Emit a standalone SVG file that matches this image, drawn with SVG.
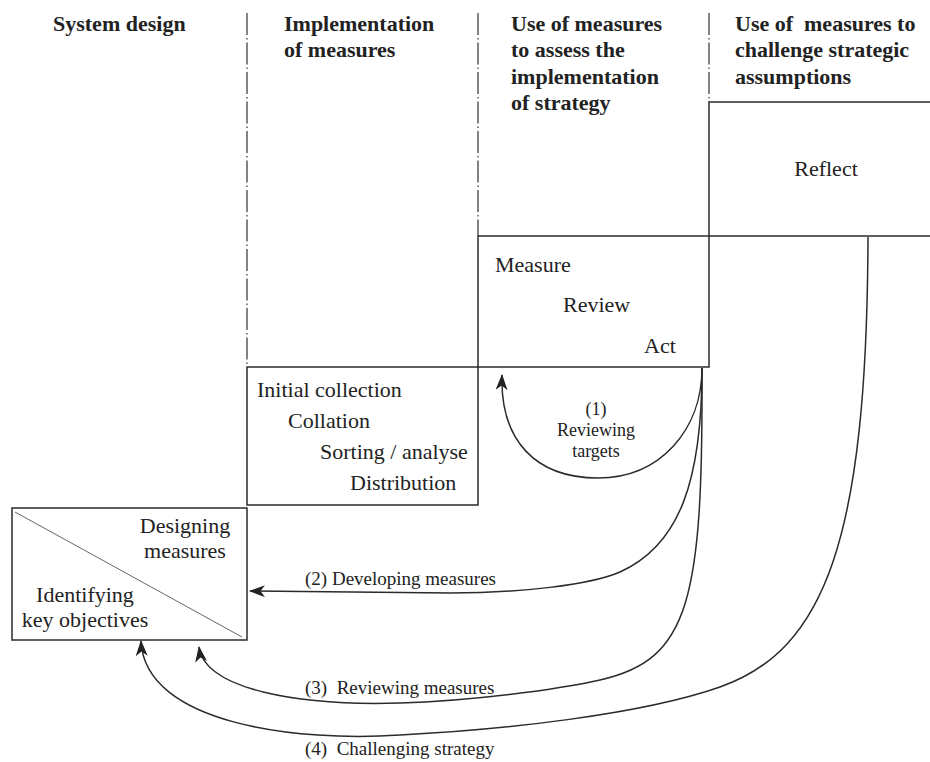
<svg xmlns="http://www.w3.org/2000/svg" width="930" height="762" viewBox="0 0 930 762">
<style>
  text { font-family: "Liberation Serif", "Times New Roman", serif; fill: #222; }
  .hd { font-size: 22px; font-weight: bold; }
  .bd { font-size: 22px; }
  .sm { font-size: 18px; }
  .lb { font-size: 19px; }
  .box { fill: none; stroke: #2b2b2b; stroke-width: 1.5; }
  .div { fill: none; stroke: #333; stroke-width: 1.2; stroke-dasharray: 22 3 1.5 3; }
  .con { fill: none; stroke: #2b2b2b; stroke-width: 1.5; }
  .diag { stroke: #555; stroke-width: 0.9; }
</style>
<defs>
  <marker id="ah" viewBox="0 0 16 12" refX="15" refY="6" markerWidth="16" markerHeight="12" markerUnits="userSpaceOnUse" orient="auto">
    <path d="M0,0 L16,6 L0,12 L4.5,6 z" fill="#222"/>
  </marker>
</defs>
<rect width="930" height="762" fill="#fff"/>

<g id="dividers">
  <line class="div" x1="247" y1="13" x2="247" y2="367"/>
  <line class="div" x1="478" y1="13" x2="478" y2="236"/>
  <line class="div" x1="709" y1="13" x2="709" y2="102"/>
</g>

<g id="headers">
  <text class="hd" x="53" y="31">System design</text>
  <text class="hd" x="284" y="31">Implementation</text>
  <text class="hd" x="284" y="57">of measures</text>
  <text class="hd" x="511" y="31">Use of measures</text>
  <text class="hd" x="511" y="57">to assess the</text>
  <text class="hd" x="511" y="84">implementation</text>
  <text class="hd" x="511" y="110">of strategy</text>
  <text class="hd" x="735" y="31" xml:space="preserve">Use of  measures to</text>
  <text class="hd" x="735" y="57">challenge strategic</text>
  <text class="hd" x="735" y="84">assumptions</text>
</g>

<g id="reflect">
  <path class="box" d="M930,102 L709,102 L709,236 L930,236"/>
  <text class="bd" x="826" y="176" text-anchor="middle">Reflect</text>
</g>

<g id="measure-review-act">
  <rect class="box" x="478" y="236" width="231" height="131"/>
  <text class="bd" x="495" y="272">Measure</text>
  <text class="bd" x="563" y="312">Review</text>
  <text class="bd" x="644" y="353">Act</text>
</g>

<g id="implementation">
  <rect class="box" x="247" y="367" width="231" height="138"/>
  <text class="bd" x="257" y="397">Initial collection</text>
  <text class="bd" x="288" y="428">Collation</text>
  <text class="bd" x="320" y="459">Sorting / analyse</text>
  <text class="bd" x="350" y="490">Distribution</text>
</g>

<g id="system-design">
  <rect class="box" x="12" y="508" width="235" height="132"/>
  <line class="diag" x1="15" y1="512" x2="242" y2="637"/>
  <text class="bd" x="185" y="533" text-anchor="middle">Designing</text>
  <text class="bd" x="185" y="558" text-anchor="middle">measures</text>
  <text class="bd" x="85" y="602" text-anchor="middle">Identifying</text>
  <text class="bd" x="85" y="627" text-anchor="middle">key objectives</text>
</g>

<g id="connectors">
  <path class="con" marker-end="url(#ah)" d="M702,368 C702,430 660,478 598,478 C535,478 500,440 502,375"/>
  <path class="con" marker-end="url(#ah)" d="M702,368 C702,480 680,545 620,572 C590,585 520,593 450,593 L250,591"/>
  <path class="con" marker-end="url(#ah)" d="M702,368 C703,600 690,660 600,680 C555,690 470,701 400,703 C300,706 205,690 199,647"/>
  <path class="con" marker-end="url(#ah)" d="M868,237 C867,540 825,650 720,687 C640,715 500,730 400,735 C300,742 145,725 141,641"/>
</g>

<g id="connector-labels">
  <text class="sm" x="596" y="415" text-anchor="middle">(1)</text>
  <text class="sm" x="596" y="436" text-anchor="middle">Reviewing</text>
  <text class="sm" x="596" y="457" text-anchor="middle">targets</text>
  <text class="lb" x="305" y="585">(2) Developing measures</text>
  <text class="lb" x="305" y="694" xml:space="preserve">(3)  Reviewing measures</text>
  <text class="lb" x="305" y="755" xml:space="preserve">(4)  Challenging strategy</text>
</g>
</svg>
